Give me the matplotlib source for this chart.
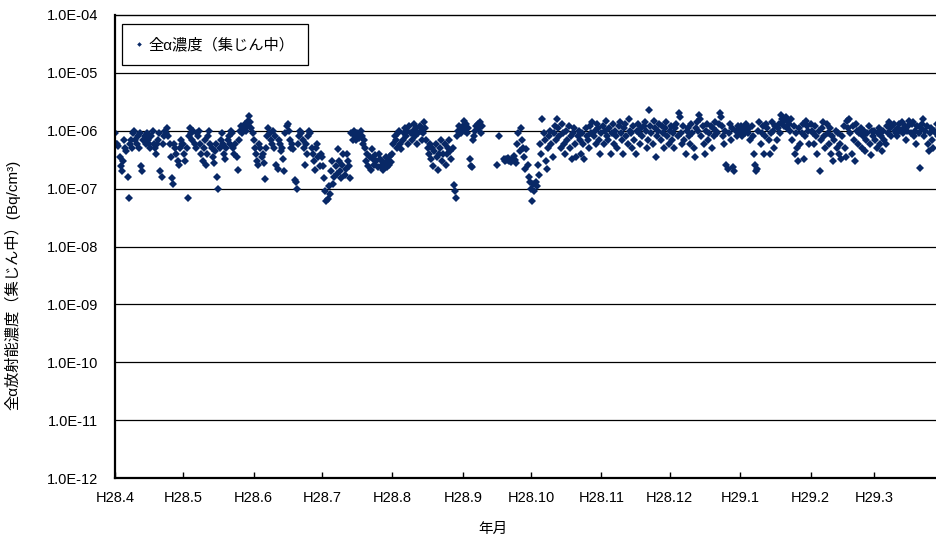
import numpy as np
import pandas as pd
import matplotlib
matplotlib.use("Agg")
import matplotlib.pyplot as plt

plt.rcParams['font.family'] = ['Liberation Sans', 'Noto Sans CJK JP']

# 全α濃度 (x1e-7 Bq/cm3), two samples per day, nan = no data
apr = [9, 6, 6, 5.5, 3.5, 2.5, 2, 3, 7, 5, 4.5, 1.6, 0.7, 6, 7, 5, 9, 10, 7, 6,
       8, 5, 9, 2.5, 2, 7, 8, 6, 9, 7, 6, 5, 8, 10, 6, 5, 4, 6, 7, 9,
       2, 1.6, 6, 8, 10, 9, 11, 8, 6, 3.5, 1.5, 1.2, 6, 5, 4, 3, 2.6, 5, 7, 6]
may = [6, 4, 3, 5, 0.7, 8, 11, 9, 7, 10, 6, 5, 9, 8, 10, 6, 4, 3, 5, 7,
       2.6, 4, 8, 10, 6, 5, 3.5, 2.8, 4.5, 6, 1.6, 1.0, 5, 7, 9, 6, 4, 3.2, 5, 7,
       8, 6, 10, 9, 5, 4, 6, 3.5, 2.1, 7, 10, 12, 9, 11, 13, 10, 12, 15, 18, 14, 11, 9]
jun = [7, 5, 4, 3, 2.6, 6, 5, 3.5, 4, 2.8, 1.45, 5, 8, 11, 9, 7, 6, 10, 5, 8,
       2.6, 2.2, 7, 6, 4.5, 5, 3.2, 2.0, 9, 12, 13, 10, 7, 5, 6, 4.8, 1.4, 1.3, 1.0, 6,
       8, 10, 9, 7, 5, 2.6, 6, 4, 8, 10, 9, 5, 4, 3, 2.1, 5, 6, 3.5, 2.5, 4]
jul = [3.5, 2.5, 1.5, 0.9, 0.6, 0.65, 1.1, 0.8, 2, 3, 1.2, 1.6, 2.5, 1.8, 4.8, 3, 2, 1.5, 2.6, 3.9,
       1.7, 2.2, 4, 3, 2.5, 1.5, 9, 7, 10, 8, 7, 9, 8, 7.5, 10, 8, 6, 7, 5, 3,
       4, 2.5, 3.5, 2.1, 4.8, 3.2, 2.6, 3.8, 3, 2.4, 3.9, 3.3, 2.5, 3, 2.1, 2.8, 3.5, 2.4, 3, 2.6, 3.6, 2.9]
aug = [4, 6, 8, 7, 5, 9, 10, 6, 4.8, 7, 9, 11, 8, 10, 6, 12, 9, 7, 10, 13,
       8, 11, 6, 9, 12, 10, 7, 9, 14, 11, 7, 5, 4, 6, 3.2, 5, 2.5, 4.5, 6, 3.5,
       2.1, 4, 5, 7, 3, 4, 6, 2.6, 4, 5, 7, 4.5, 3.2, 5, 1.15, 0.9, 0.7, 8, 10, 12, 9, 11]
sep = [12, 15, 10, 13, 9, 11, 3.2, 2.5, 2.4, 7, 8, 10, 12, 13, 11, 14, 9, 12, np.nan, np.nan,
       np.nan, np.nan, np.nan, np.nan, np.nan, np.nan, np.nan, np.nan, np.nan, np.nan, 2.6, np.nan, 8, np.nan, np.nan, np.nan, 3.2, 3.0, 3.3, 3.1,
       3.4, 3.0, 2.9, 3.2, 3.3, 3.6, 3.1, 2.8, 6, 9, 4.5, 11, 7, 5, 3.5, 2.2, 4.8, 2.6, 1.6, 1.3]
oct_ = [1.0, 0.6, 1.2, 0.9, 1.3, 1.1, 2.6, 1.7, 6, 4, 16, 9, 7, 3, 2.2, 5, 8, 10, 6, 3.5,
        9, 12, 7, 16, 11, 8, 5, 13, 9, 6, 4, 10, 7, 12, 5, 8, 3.2, 9, 11, 6,
        3.5, 8, 10, 7, 4, 9, 6, 3.2, 11, 8, 7, 5, 12, 9, 14, 8, 10, 6, 13, 11, 7, 4]
nov = [9, 12, 6, 10, 15, 8, 7, 11, 4, 9, 13, 6, 10, 8, 5, 12, 14, 9, 7, 4,
       11, 13, 8, 6, 16, 10, 9, 5, 12, 7, 4, 10, 13, 9, 6, 11, 8, 12, 14, 10,
       5, 7, 23, 12, 9, 6, 15, 11, 3.5, 8, 10, 13, 7, 12, 9, 5, 11, 14, 8, 6]
dec = [10, 12, 7, 9, 5, 11, 13, 8, 20, 17, 9, 6, 12, 7, 4, 10, 11, 8, 6, 13,
       9, 5, 3.5, 11, 14, 10, 19, 16, 8, 12, 6, 4, 10, 13, 7, 9, 12, 5, 11, 8,
       14, 10, 9, 13, 20, 17, 12, 8, 6, 10, 2.6, 2.2, 9, 13, 7, 11, 2.4, 2.0, 10, 8, 12, 9]
jan = [10, 12, 8, 11, 9, 13, 10, 9, 11, 7, 12, 8, 3.9, 2.6, 2.0, 2.2, 10, 14, 6, 9,
       12, 4, 8, 13, 11, 7, 3.9, 9, 14, 10, 5, 12, 7, 11, 13, 9, 19, 16, 14, 12,
       17, 11, 15, 13, 10, 16, 7, 12, 4, 9, 5, 3, 11, 6, 9, 13, 3.2, 8, 15, 12, 10, 6]
feb = [13, 10, 9, 6, 12, 8, 4, 10, 2.0, 7, 11, 14, 8, 5, 13, 9, 6, 11, 4, 8,
       3, 7, 10, 5, 9, 4, 6, 3.2, 8, 12, 5, 3.5, 15, 11, 16, 9, 4, 12, 7, 3,
       13, 10, 6, 9, 11, 5, 8, 10, 4.5, 7, 9, 12, 6, 3.8, 10, 8]
mar = [10, 7, 5, 9, 11, 6, 8, 4.5, 10, 7, 6, 12, 9, 14, 11, 8, 12, 13, 10, 9,
       8, 11, 13, 10, 14, 9, 11, 12, 7, 10, 12, 15, 9, 13, 14, 8, 10, 6, 12, 9,
       2.3, 11, 13, 16, 8, 10, 12, 6, 4.5, 9, 11, 7, 5, 10, 9, 13, 8, 11, 12, 7, 10, 9]

months = [apr, may, jun, jul, aug, sep, oct_, nov, dec, jan, feb, mar]
month_starts = pd.date_range('2016-04-01', periods=13, freq='MS')
tick_labels = ['H28.4', 'H28.5', 'H28.6', 'H28.7', 'H28.8', 'H28.9', 'H28.10',
               'H28.11', 'H28.12', 'H29.1', 'H29.2', 'H29.3']
y_labels = ['1.0E-12', '1.0E-11', '1.0E-10', '1.0E-09', '1.0E-08',
            '1.0E-07', '1.0E-06', '1.0E-05', '1.0E-04']

dates = []
vals = []
for start, m in zip(month_starts, months):
    dates.extend(pd.date_range(start, periods=len(m), freq='12h'))
    vals.extend(m)
vals = np.array(vals, dtype=float) * 1e-7

navy = '#082866'

fig = plt.figure(figsize=(9.37, 5.38), dpi=100)
ax = fig.add_axes([115 / 937, 60 / 538, 822 / 937, 463 / 538])

ax.plot(dates, vals, linestyle='none', marker='D', markersize=3.6,
        color=navy, markeredgewidth=0, label='全α濃度（集じん中）')

ax.set_yscale('log')
ax.set_ylim(1e-12, 1e-4)
yt = [10.0 ** e for e in range(-12, -3)]
ax.set_yticks(yt)
ax.set_yticklabels(y_labels)
ax.yaxis.set_minor_locator(matplotlib.ticker.NullLocator())
for y in yt[1:-1]:
    ax.axhline(y, color='black', linewidth=0.9, zorder=0)

ax.set_xlim(pd.Timestamp('2016-04-01'), pd.Timestamp('2016-04-01') + pd.Timedelta(days=361.6))
ax.set_xticks(month_starts[:12])
ax.set_xticklabels(tick_labels)

ax.tick_params(axis='x', direction='in', length=4, width=1, pad=9, labelsize=10.5, top=False)
ax.tick_params(axis='y', length=0, pad=12, labelsize=10.5)

ax.spines['right'].set_visible(False)
ax.spines['top'].set_linewidth(1.0)
ax.spines['left'].set_linewidth(1.6)
ax.spines['bottom'].set_linewidth(1.6)

ax.set_xlabel('年月', fontsize=10.5)
ax.xaxis.set_label_coords(0.46, -0.095)
ax.set_ylabel('全α放射能濃度（集じん中）(Bq/cm³)', fontsize=11)
ax.yaxis.set_label_coords(-0.1156, 0.417)

leg = ax.legend(loc='upper left', bbox_to_anchor=(-0.001, 0.996), fontsize=11,
                frameon=True, fancybox=False, edgecolor='black', framealpha=1,
                handlelength=0.6, handletextpad=0.3, borderpad=0.85,
                markerscale=0.65)
leg.get_frame().set_linewidth(0.9)

fig.savefig('out.png', dpi=100)
